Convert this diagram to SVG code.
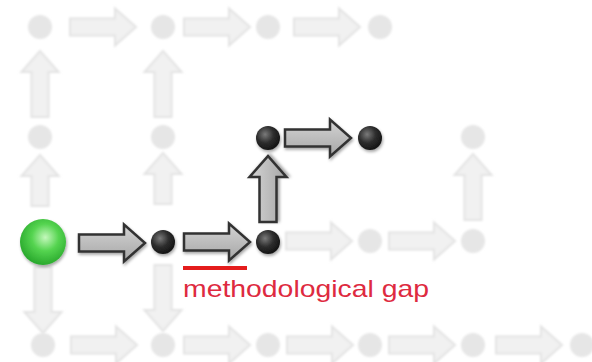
<svg xmlns="http://www.w3.org/2000/svg" xmlns:xlink="http://www.w3.org/1999/xlink" width="592" height="362" viewBox="0 0 592 362">
  <defs>
    <style>
      .la { fill: #f1f1f1; stroke: #e3e3e3; stroke-width: 2; filter: url(#soft); }
      .lc { fill: #e6e6e6; filter: url(#soft); }
      .da { fill: url(#dgrad); stroke: #333333; stroke-width: 2.5; stroke-linejoin: miter; filter: url(#shadow); }
      .bc { fill: url(#bgrad); filter: url(#shadow); }
      .gc { fill: url(#ggrad); filter: url(#shadow); }
      .lbl { font-family: "Liberation Sans", Arial, sans-serif; font-size: 24px; fill: #de2a40; }
    </style>
    <filter id="soft" x="-20%" y="-20%" width="140%" height="140%">
      <feGaussianBlur stdDeviation="0.9"/>
    </filter>
    <filter id="shadow" x="-30%" y="-30%" width="160%" height="160%">
      <feDropShadow dx="1" dy="2" stdDeviation="1.8" flood-color="#000" flood-opacity="0.35"/>
    </filter>
    <linearGradient id="dgrad" x1="0" y1="0" x2="0" y2="1">
      <stop offset="0" stop-color="#d4d4d4"/>
      <stop offset="1" stop-color="#a6a6a6"/>
    </linearGradient>
    <radialGradient id="bgrad" cx="0.38" cy="0.35" r="0.7">
      <stop offset="0" stop-color="#7a7a7a"/>
      <stop offset="0.5" stop-color="#2e2e2e"/>
      <stop offset="1" stop-color="#111111"/>
    </radialGradient>
    <radialGradient id="ggrad" cx="0.55" cy="0.4" r="0.65">
      <stop offset="0" stop-color="#c4f8bc"/>
      <stop offset="0.45" stop-color="#55d450"/>
      <stop offset="1" stop-color="#22a227"/>
    </radialGradient>
    <path id="arrL" d="M0,-8.5 H45 V-18.5 L66,0 L45,18.5 V8.5 H0 Z"/>
    <path id="arrS" d="M0,-8.5 H30 V-18.5 L51,0 L30,18.5 V8.5 H0 Z"/>
  </defs>
  <rect width="592" height="362" fill="#ffffff"/>

  <g id="connectors">
    <use xlink:href="#arrL" class="la" transform="translate(70,27)"/>
    <use xlink:href="#arrL" class="la" transform="translate(184,27)"/>
    <use xlink:href="#arrL" class="la" transform="translate(294,27)"/>
    <use xlink:href="#arrL" class="la" transform="translate(40,117) rotate(-90)"/>
    <use xlink:href="#arrL" class="la" transform="translate(163,117) rotate(-90)"/>
    <use xlink:href="#arrS" class="la" transform="translate(40,206) rotate(-90)"/>
    <use xlink:href="#arrS" class="la" transform="translate(163,204) rotate(-90)"/>
    <use xlink:href="#arrL" class="la" transform="translate(473,220) rotate(-90)"/>
    <use xlink:href="#arrL" class="la" transform="translate(43,267) rotate(90)"/>
    <use xlink:href="#arrL" class="la" transform="translate(163,265) rotate(90)"/>
    <use xlink:href="#arrL" class="la" transform="translate(286,241)"/>
    <use xlink:href="#arrL" class="la" transform="translate(389,241)"/>
    <use xlink:href="#arrL" class="la" transform="translate(71,345)"/>
    <use xlink:href="#arrL" class="la" transform="translate(184,345)"/>
    <use xlink:href="#arrL" class="la" transform="translate(287,345)"/>
    <use xlink:href="#arrL" class="la" transform="translate(389,345)"/>
    <use xlink:href="#arrL" class="la" transform="translate(496,345)"/>
    <use xlink:href="#arrL" class="da" transform="translate(79,243)"/>
    <use xlink:href="#arrL" class="da" transform="translate(184,242)"/>
    <use xlink:href="#arrL" class="da" transform="translate(268,222) rotate(-90)"/>
    <use xlink:href="#arrL" class="da" transform="translate(285,138)"/>
  </g>

  <g id="n-t1"><circle class="lc" cx="40" cy="27" r="12"/></g>
  <g id="n-t2"><circle class="lc" cx="163" cy="27" r="12"/></g>
  <g id="n-t3"><circle class="lc" cx="268" cy="27" r="12"/></g>
  <g id="n-t4"><circle class="lc" cx="380" cy="27" r="12"/></g>
  <g id="n-m1"><circle class="lc" cx="40" cy="137" r="12"/></g>
  <g id="n-m2"><circle class="lc" cx="163" cy="137" r="12"/></g>
  <g id="n-m6"><circle class="lc" cx="473" cy="137" r="12"/></g>
  <g id="n-r4"><circle class="lc" cx="370" cy="241" r="12"/></g>
  <g id="n-r5"><circle class="lc" cx="473" cy="241" r="12"/></g>
  <g id="n-b1"><circle class="lc" cx="43" cy="345" r="12"/></g>
  <g id="n-b2"><circle class="lc" cx="163" cy="345" r="12"/></g>
  <g id="n-b3"><circle class="lc" cx="268" cy="345" r="12"/></g>
  <g id="n-b4"><circle class="lc" cx="370" cy="345" r="12"/></g>
  <g id="n-b5"><circle class="lc" cx="473" cy="345" r="12"/></g>
  <g id="n-b6"><circle class="lc" cx="582" cy="345" r="12"/></g>

  <g id="n-start"><circle class="gc" cx="43" cy="242" r="23"/></g>
  <g id="n-d1"><circle class="bc" cx="163" cy="242" r="12"/></g>
  <g id="n-d2"><circle class="bc" cx="268" cy="242" r="12"/></g>
  <g id="n-d3"><circle class="bc" cx="268" cy="138" r="12"/></g>
  <g id="n-d4"><circle class="bc" cx="370" cy="138" r="12"/></g>

  <g id="gap-label">
    <rect x="183" y="266" width="64" height="4" fill="#e41c1c"/>
    <text class="lbl" x="183" y="297" textLength="246" lengthAdjust="spacingAndGlyphs">methodological gap</text>
  </g>
</svg>
